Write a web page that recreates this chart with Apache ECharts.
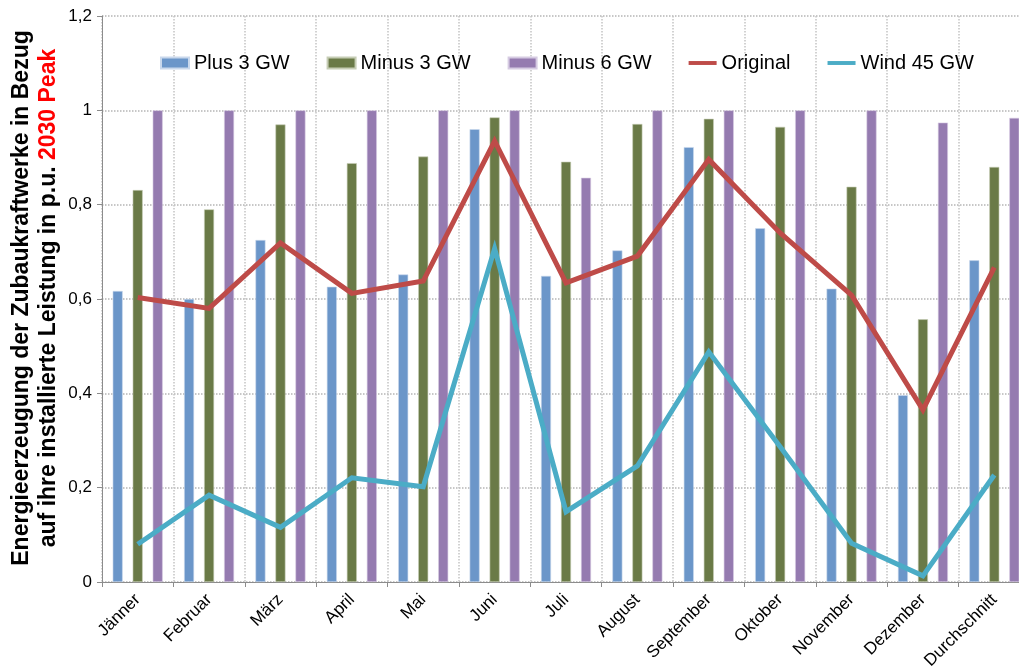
<!DOCTYPE html>
<html>
<head>
<meta charset="utf-8">
<script src="https://cdn.jsdelivr.net/npm/echarts@6/dist/echarts.min.js"></script>
<style>
  html, body { margin: 0; padding: 0; background: #fff; }
  #chart { width: 1019px; height: 668px; }
</style>
</head>
<body>
<div id="chart"></div>
<script>
// Monthly output of the added plants, relative to installed capacity (p.u.)
const months = ['Jänner', 'Februar', 'März', 'April', 'Mai', 'Juni', 'Juli', 'August',
  'September', 'Oktober', 'November', 'Dezember', 'Durchschnitt'];

const plus3 = [0.617, 0.600, 0.725, 0.626, 0.652, 0.960, 0.649, 0.703, 0.922, 0.750, 0.622, 0.396, 0.682];
const minus3 = [0.831, 0.790, 0.970, 0.888, 0.902, 0.985, 0.891, 0.971, 0.982, 0.965, 0.838, 0.557, 0.880];
const minus6 = [1.000, 1.000, 1.000, 1.000, 1.000, 1.000, 0.857, 1.000, 1.000, 1.000, 1.000, 0.974, 0.984];
const original = [0.603, 0.580, 0.719, 0.612, 0.638, 0.935, 0.634, 0.691, 0.896, 0.740, 0.608, 0.365, 0.667];
const wind45 = [0.080, 0.184, 0.116, 0.221, 0.202, 0.707, 0.149, 0.246, 0.488, 0.287, 0.082, 0.013, 0.227];

const yTicks = { min: 0, max: 1.2, interval: 0.2 };

const FONT = 'Liberation Sans, Arial, sans-serif';
const gridLine = { show: true, lineStyle: { color: '#b5b5b5', type: 'dotted', width: 1.5 } };
// flat bar used as the legend marker of the two line series
const LINE_ICON = 'path://M0,0 L30,0 L30,4.2 L0,4.2 Z';

const chart = echarts.init(document.getElementById('chart'), null, { renderer: 'canvas' });

chart.setOption({
  animation: false,
  backgroundColor: '#ffffff',
  textStyle: { fontFamily: FONT },
  // the plot area runs a little past the right edge of the canvas
  grid: { left: 102, right: -11, top: 16, bottom: 86, containLabel: false, outerBoundsMode: 'none' },
  legend: {
    left: 155,
    top: 48,
    itemWidth: 28,
    itemHeight: 11,
    itemGap: 37,
    textStyle: { fontSize: 20, color: '#000', fontFamily: FONT },
    data: [
      { name: 'Plus 3 GW', icon: 'rect' },
      { name: 'Minus 3 GW', icon: 'rect' },
      { name: 'Minus 6 GW', icon: 'rect' },
      { name: 'Original', icon: LINE_ICON },
      { name: 'Wind 45 GW', icon: LINE_ICON }
    ]
  },
  xAxis: {
    type: 'category',
    data: months,
    boundaryGap: true,
    axisLine: { show: true, lineStyle: { color: '#8c8c8c', width: 1 } },
    axisTick: { show: true, length: 5, lineStyle: { color: '#8c8c8c' } },
    axisLabel: { rotate: 45, interval: 0, margin: 15, fontSize: 17, color: '#000', fontFamily: FONT },
    splitLine: { show: true, interval: 0, lineStyle: { color: '#c4c4c4', type: 'dotted', width: 1.5 } }
  },
  yAxis: {
    type: 'value',
    min: yTicks.min,
    max: yTicks.max,
    interval: yTicks.interval,
    axisLine: { show: true, lineStyle: { color: '#8c8c8c', width: 1 } },
    axisTick: { show: true, length: 5, lineStyle: { color: '#8c8c8c' } },
    axisLabel: {
      margin: 10, fontSize: 17, color: '#000', fontFamily: FONT,
      formatter: v => String(+v.toFixed(1)).replace('.', ',')
    },
    splitLine: gridLine
  },
  graphic: [{
    type: 'text',
    x: 35,
    y: 298,
    rotation: Math.PI / 2,
    style: {
      text: '{b|Energieerzeugung der Zubaukraftwerke in Bezug}\n{b|auf ihre installierte Leistung in p.u. }{r|2030 Peak}',
      align: 'center',
      verticalAlign: 'middle',
      rich: {
        b: { fontSize: 23, fontWeight: 'bold', fontFamily: FONT, fill: '#000', lineHeight: 27 },
        r: { fontSize: 23, fontWeight: 'bold', fontFamily: FONT, fill: '#ff0000', lineHeight: 27 }
      }
    }
  }],
  series: [
    {
      name: 'Plus 3 GW', type: 'bar', data: plus3, barWidth: 10, barGap: '100%',
      itemStyle: { color: '#6b96c9', borderColor: '#c9d8ec', borderWidth: 0.6 }
    },
    {
      name: 'Minus 3 GW', type: 'bar', data: minus3, barWidth: 10, barGap: '100%',
      itemStyle: { color: '#6a7a47', borderColor: '#c6cdb5', borderWidth: 0.6 }
    },
    {
      name: 'Minus 6 GW', type: 'bar', data: minus6, barWidth: 10, barGap: '100%',
      itemStyle: { color: '#957bb0', borderColor: '#d6cbe2', borderWidth: 0.6 }
    },
    {
      name: 'Original', type: 'line', data: original, symbol: 'none', z: 5,
      lineStyle: { color: '#be4b48', width: 5, join: 'miter' },
      itemStyle: { color: '#be4b48' }
    },
    {
      name: 'Wind 45 GW', type: 'line', data: wind45, symbol: 'none', z: 6,
      lineStyle: { color: '#4bacc6', width: 5, join: 'miter' },
      itemStyle: { color: '#4bacc6' }
    }
  ]
});
</script>
</body>
</html>
